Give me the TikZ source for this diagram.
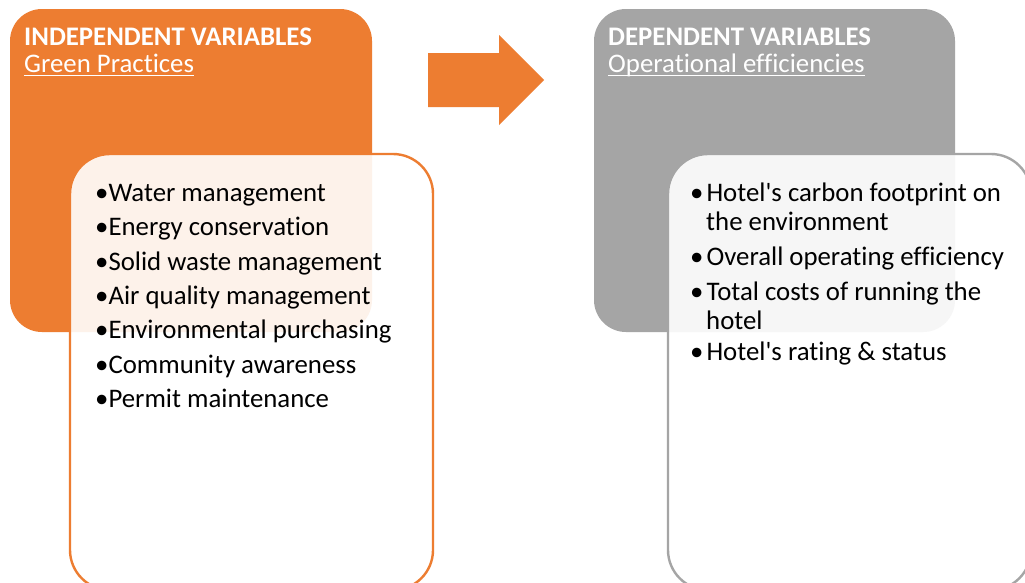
\documentclass[tikz,border=0pt]{standalone}
\usepackage{fontspec}
\setmainfont{Carlito}[Ligatures={TeXOff,CommonOff}]
\definecolor{accorange}{HTML}{ED7D31}
\definecolor{accgray}{HTML}{A5A5A5}
% underline at a fixed depth below the baseline
\newcommand{\fixedunderline}[1]{\setbox0\hbox{#1}\rlap{\rule[-4.3pt]{\wd0}{1.3pt}}\box0}
\tikzset{
  headbox/.style={rectangle, rounded corners=32pt, inner sep=0pt, draw=none},
  listbox/.style={rectangle, rounded corners=40pt, inner sep=0pt, line width=2.4pt,
                  fill=white, fill opacity=0.9},
  titletext/.style={anchor=base west, inner sep=0pt, text=white,
                    font=\fontsize{26.8}{30}\selectfont\bfseries},
  subtext/.style={anchor=base west, inner sep=0pt, text=white,
                  font=\fontsize{26.8}{30}\selectfont},
  itemtext/.style={anchor=base west, inner sep=0pt, text=black,
                   font=\fontsize{26.8}{30}\selectfont},
}
\begin{document}
\begin{tikzpicture}[x=1pt, y=-1pt]
\clip (0,0) rectangle (1025,582);
\fill[white] (0,0) rectangle (1025,582);

% coloured header panels
\node[headbox, fill=accorange, minimum width=362pt, minimum height=323pt] (indep) at (191,170.5) {};
\node[headbox, fill=accgray, minimum width=361pt, minimum height=323pt] (dep) at (774.5,170.5) {};

% block arrow between the two groups
\fill[accorange] (428,53) -- (499,53) -- (499,35) -- (544,80) -- (499,125) -- (499,107) -- (428,107) -- cycle;

% translucent list panels
\node[listbox, draw=accorange, minimum width=363pt, minimum height=436pt] (indeplist) at (251.5,372) {};
\node[listbox, draw=accgray, minimum width=363pt, minimum height=436pt] (deplist) at (849.5,372) {};

% headings
\node[titletext] (indeptitle) at (24,45) {INDEPENDENT VARIABLES};
\node[subtext] (indepsub) at (24,72) {\fixedunderline{Green Practices}};
\node[titletext] (deptitle) at (608,45) {DEPENDENT VARIABLES};
\node[subtext] (depsub) at (608,72) {\fixedunderline{Operational efficiencies}};

% independent variables
\node[itemtext] (i1) at (95,201.5) {•Water management};
\node[itemtext] (i2) at (95,235.8) {•Energy conservation};
\node[itemtext] (i3) at (95,270.1) {•Solid waste management};
\node[itemtext] (i4) at (95,304.4) {•Air quality management};
\node[itemtext] (i5) at (95,338.7) {•Environmental purchasing};
\node[itemtext] (i6) at (95,373.0) {•Community awareness};
\node[itemtext] (i7) at (95,407.3) {•Permit maintenance};

% dependent variables
\node[itemtext] (d1a) at (690,201) {•\hspace{3pt}Hotel's carbon footprint on};
\node[itemtext] (d1b) at (706,230.7) {the environment};
\node[itemtext] (d2) at (690,265.5) {•\hspace{3pt}Overall operating efficiency};
\node[itemtext] (d3a) at (690,300) {•\hspace{3pt}Total costs of running the};
\node[itemtext] (d3b) at (706,329.7) {hotel};
\node[itemtext] (d4) at (690,360) {•\hspace{3pt}Hotel's rating \& status};
\end{tikzpicture}
\end{document}
